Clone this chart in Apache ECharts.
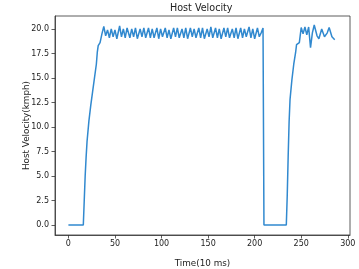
<!DOCTYPE html>
<html>
<head>
    <meta charset="UTF-8">
    <script src="https://cdn.jsdelivr.net/npm/echarts@6/dist/echarts.min.js"></script>
    <style>
        html, body { margin: 0; padding: 0; background: #fff; }
    </style>
</head>
<body>
    <div id="velChart" style="width:359px;height:269px"></div>
    <script type="text/javascript">
        // time samples (10 ms units) and host velocity (kmph)
        var timeSteps = [0, 16, 17, 18, 19, 20, 22, 24, 26, 28, 30, 31, 32, 34, 36, 38,
            40, 42, 44, 46, 48, 50, 52, 55, 57, 59, 61, 63, 66, 68, 70, 72, 74, 77, 79, 81, 83,
            86, 88, 90, 92, 95, 97, 99, 101, 104, 106, 108, 110, 113, 115, 117, 119, 122, 124,
            126, 128, 131, 133, 135, 137, 140, 142, 144, 146, 149, 151, 153, 155, 158, 160,
            162, 164, 167, 169, 171, 173, 176, 178, 180, 182, 185, 187, 189, 191, 194, 196,
            198, 200, 203, 205, 207, 209, 210, 234, 235, 236, 237, 238, 240, 242, 244, 245,
            248, 250, 252, 254, 256, 258, 260, 262, 264, 267, 269, 272, 275, 278, 280, 283, 286];
        var hostVelocity = [0, 0, 2.5, 5.0, 6.9, 8.5, 10.6, 12.2, 13.6, 15.0, 16.4, 17.6, 18.3, 18.6, 19.5, 20.25,
            19.3, 19.9, 19.1, 20.0, 19.2, 19.9, 19.0, 20.3, 19.2, 20.0, 19.1, 20.1, 19.1, 20.0, 19.2, 20.1, 19.0, 20.0, 19.2, 20.1, 19.1,
            20.1, 19.1, 20.0, 19.1, 20.1, 19.0, 20.0, 19.2, 20.1, 19.1, 19.9, 19.0, 20.1, 19.2, 20.1, 19.1, 20.0, 19.1,
            20.1, 19.0, 20.1, 19.2, 20.0, 19.1, 20.1, 19.1, 20.1, 19.0, 20.0, 19.2, 20.2, 19.1, 20.1, 19.1,
            20.0, 19.0, 20.1, 19.2, 20.1, 19.1, 20.0, 19.1, 20.1, 19.0, 20.1, 19.1, 20.0, 19.2, 20.2, 19.1,
            20.0, 19.0, 20.1, 19.2, 19.6, 20.1, 0, 0, 3.0, 7.0, 10.5, 12.8, 14.8, 16.4, 17.6, 18.4,
            18.6, 20.15, 19.5, 20.2, 19.4, 20.2, 18.1, 19.6, 20.4, 19.3, 19.0, 20.0, 19.2, 19.6, 20.15, 19.2, 18.9];

        var xTicks = [0, 50, 100, 150, 200, 250, 300];
        var yTicks = [0, 2.5, 5, 7.5, 10, 12.5, 15, 17.5, 20];

        var points = [];
        for (var i = 0; i < timeSteps.length; i++) {
            points.push([timeSteps[i], hostVelocity[i]]);
        }

        var myChart = echarts.init(document.getElementById('velChart'));
        var option = {
            animation: false,
            title: {
                text: 'Host Velocity',
                left: 170,
                top: 3,
                padding: 0,
                textStyle: { fontFamily: 'DejaVu Sans', fontSize: 9.6, fontWeight: 'normal', color: '#222' }
            },
            grid: {
                left: 55, right: 9, top: 16, bottom: 34,
                containLabel: false,
                outerBoundsMode: 'none',
                show: true, borderColor: '#333', borderWidth: 0.8, backgroundColor: 'transparent'
            },
            xAxis: {
                type: 'value',
                min: -14.4,
                max: 302.4,
                name: 'Time(10 ms)',
                nameLocation: 'middle',
                nameGap: 24,
                nameMoveOverlap: false,
                nameTextStyle: { fontFamily: 'DejaVu Sans', fontSize: 8.8, color: '#222' },
                axisLine: { show: true, onZero: false, lineStyle: { color: '#333', width: 0.8 } },
                axisTick: { show: true, length: 3.5, customValues: xTicks, lineStyle: { color: '#333', width: 0.8 } },
                axisLabel: { customValues: xTicks, fontFamily: 'DejaVu Sans', fontSize: 8, color: '#222', margin: 5 },
                splitLine: { show: false }
            },
            yAxis: {
                type: 'value',
                min: -1.02,
                max: 21.32,
                name: 'Host Velocity(kmph)',
                nameLocation: 'middle',
                nameGap: 24,
                nameMoveOverlap: false,
                nameTextStyle: { fontFamily: 'DejaVu Sans', fontSize: 8.8, color: '#222' },
                axisLine: { show: true, onZero: false, lineStyle: { color: '#333', width: 0.8 } },
                axisTick: { show: true, length: 3.5, customValues: yTicks, lineStyle: { color: '#333', width: 0.8 } },
                axisLabel: {
                    customValues: yTicks,
                    fontFamily: 'DejaVu Sans', fontSize: 8, color: '#222', margin: 6,
                    formatter: function (v) { return v.toFixed(1); }
                },
                splitLine: { show: false }
            },
            series: [
                {
                    type: 'line',
                    data: points,
                    showSymbol: false,
                    lineStyle: { color: '#3189cf', width: 1.5 }
                }
            ]
        };
        myChart.setOption(option);
    </script>
</body>
</html>
